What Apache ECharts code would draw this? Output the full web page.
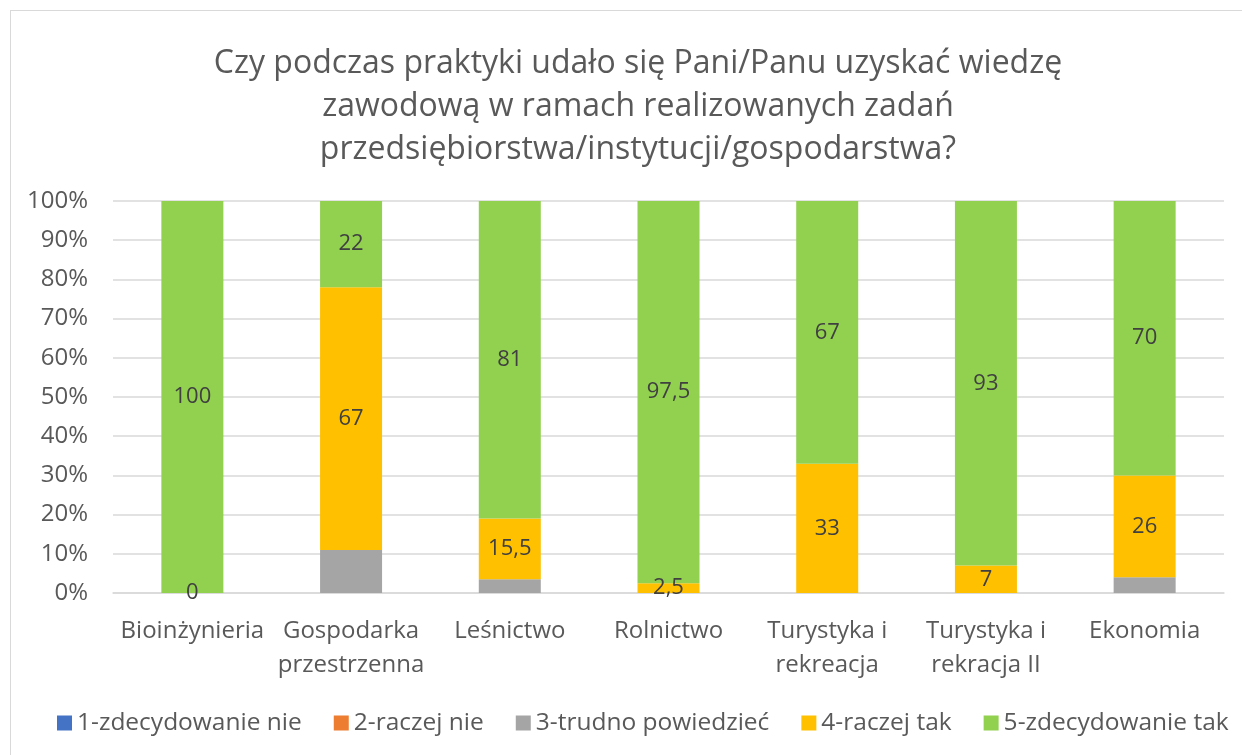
<!DOCTYPE html>
<html>
<head>
<meta charset="utf-8">
<script src="https://cdn.jsdelivr.net/npm/echarts@6/dist/echarts.min.js"></script>
<style>
html,body{margin:0;padding:0;background:#fff;}
#frame{position:absolute;left:10px;top:10px;width:1240px;height:750px;border:1.5px solid #d9d9d9;box-sizing:border-box;}
#chart{position:absolute;left:0;top:0;width:1242px;height:755px;}
</style>
</head>
<body>
<div id="frame"></div>
<div id="chart"></div>
<script>
const titleText = 'Czy podczas praktyki udało się Pani/Panu uzyskać wiedzę\nzawodową w ramach realizowanych zadań\nprzedsiębiorstwa/instytucji/gospodarstwa?';
const categories = ['Bioinżynieria', 'Gospodarka\nprzestrzenna', 'Leśnictwo', 'Rolnictwo', 'Turystyka i\nrekreacja', 'Turystyka i\nrekracja II', 'Ekonomia'];
const seriesNames = ['1-zdecydowanie nie', '2-raczej nie', '3-trudno powiedzieć', '4-raczej tak', '5-zdecydowanie tak'];
const s1 = [0, 0, 0, 0, 0, 0, 0];
const s2 = [0, 0, 0, 0, 0, 0, 0];
const s3 = [0, 11, 3.5, 0, 0, 0, 4];
const s4 = [0, 67, 15.5, 2.5, 33, 7, 26];
const s5 = [100, 22, 81, 97.5, 67, 93, 70];
const colors = ['#4472C4', '#ED7D31', '#A5A5A5', '#FFC000', '#92D050'];
const showLabel = [false, false, false, true, true];

const FONT = '"Open Sans", sans-serif';
const chart = echarts.init(document.getElementById('chart'));
const allData = [s1, s2, s3, s4, s5];
chart.setOption({
  backgroundColor: 'transparent',
  textStyle: {fontFamily: FONT},
  title: {
    text: titleText,
    left: 633,
    textAlign: 'center',
    top: 37,
    textStyle: {fontFamily: FONT, fontSize: 32, fontWeight: 'normal', color: '#595959', lineHeight: 43, align: 'center'}
  },
  legend: {
    top: 710,
    left: 57,
    padding: 0,
    icon: 'rect',
    itemWidth: 15,
    itemHeight: 15,
    itemGap: 32,
    textStyle: {fontFamily: FONT, fontSize: 24.5, lineHeight: 26, color: '#595959'},
    data: seriesNames
  },
  grid: {left: 113, right: 18, top: 201, bottom: 162, containLabel: false},
  xAxis: {
    type: 'category',
    data: categories,
    axisLine: {lineStyle: {color: '#d9d9d9', width: 1.5}},
    axisTick: {show: false},
    axisLabel: {fontFamily: FONT, fontSize: 24, color: '#595959', margin: 21, lineHeight: 34, interval: 0}
  },
  yAxis: {
    type: 'value',
    min: 0, max: 100, interval: 10,
    axisLine: {show: false},
    axisTick: {show: false},
    splitLine: {lineStyle: {color: '#d9d9d9', width: 1.5}},
    axisLabel: {fontFamily: FONT, fontSize: 24, color: '#595959', margin: 25, formatter: '{value}%'}
  },
  series: seriesNames.map((n, i) => ({
    name: n,
    type: 'bar',
    stack: 'total',
    barWidth: 62,
    itemStyle: {color: colors[i]},
    data: allData[i],
    label: {
      show: showLabel[i],
      position: 'inside',
      fontFamily: FONT,
      fontSize: 22,
      color: '#404040',
      formatter: p => String(p.value).replace('.', ',')
    },
    emphasis: {disabled: true}
  }))
});
</script>
</body>
</html>
